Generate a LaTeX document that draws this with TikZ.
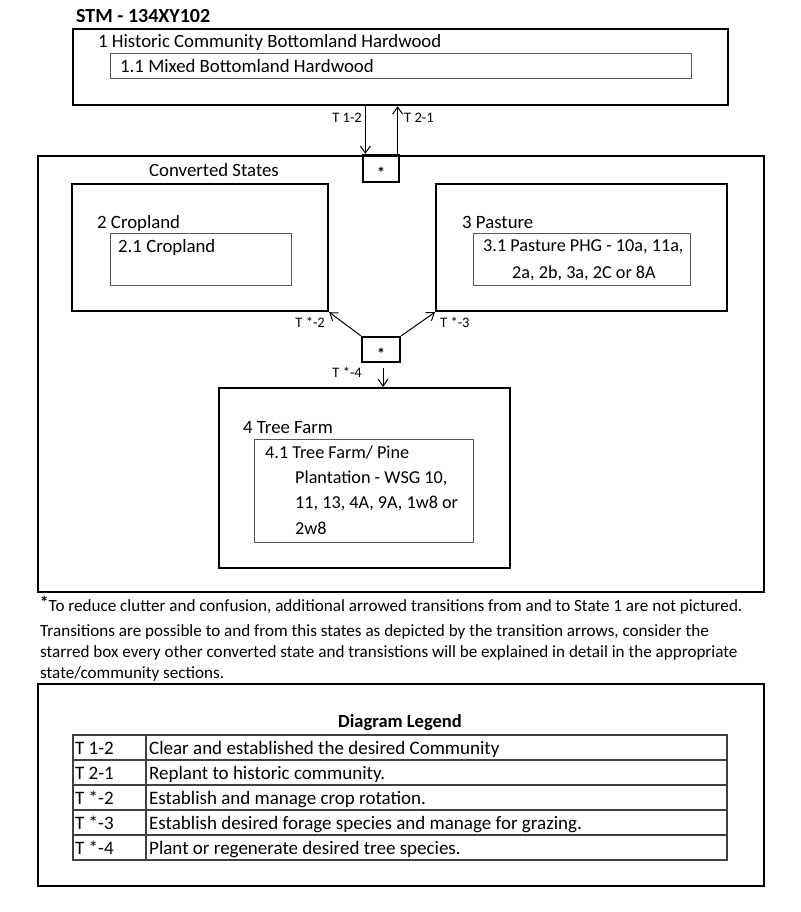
\documentclass[tikz,border=0pt]{standalone}
\usepackage{fontspec}
\setmainfont{Carlito}
\usetikzlibrary{arrows.meta}
\begin{document}
\begin{tikzpicture}[x=1pt,y=-1pt,
  statebox/.style={draw=black, line width=2.2pt, anchor=north west, inner sep=0pt},
  commbox/.style={draw=black!65, line width=1.3pt, anchor=north west, inner sep=0pt},
  starbox/.style={draw=black, line width=2.2pt, inner sep=0pt, font=\fontsize{16}{17}\selectfont\bfseries},
  arr/.style={-{Straight Barb[length=7pt,width=10pt]}, line width=1pt},
  txt/.style={anchor=west, inner sep=0pt, font=\fontsize{18.8}{22}\selectfont},
  txts/.style={anchor=west, inner sep=0pt, font=\fontsize{18.2}{22}\selectfont},
  lab/.style={inner sep=0pt, font=\fontsize{14.5}{16}\selectfont},
  note/.style={anchor=west, inner sep=0pt, font=\fontsize{17.1}{20}\selectfont},
  tabtxt/.style={anchor=base west, inner sep=0pt, font=\fontsize{19}{22}\selectfont},
  tabline/.style={draw=black!75, line width=1.3pt},
]
\useasboundingbox (0,0) rectangle (800,912);
\fill[white] (0,0) rectangle (800,912);

% title
\node[txt, font=\fontsize{20}{24}\selectfont\bfseries] (title) at (76,16) {STM - 134XY102};

% state 1
\node[statebox, minimum width=655pt, minimum height=76pt] (s1) at (72,28) {};
\node[txt] (s1t) at (98,42) {1 Historic Community Bottomland Hardwood};
\node[commbox, minimum width=581pt, minimum height=25pt] (c11) at (110,53) {};
\node[txt] (c11t) at (120,66) {1.1 Mixed Bottomland Hardwood};

% converted states
\node[statebox, minimum width=726pt, minimum height=436pt] (conv) at (37,155) {};
\node[txt] (convt) at (149,170) {Converted States};

% star 1
\node[starbox, minimum width=36pt, minimum height=27pt] (st1) at (381,168.5) {\smash{\raisebox{-10pt}{*}}};
\path ([xshift=3.5pt]st1.north west) coordinate (a12e);
\path ([xshift=-2.5pt]st1.north east) coordinate (a21s);
\draw[arr] (s1.south -| a12e) -- (a12e);
\draw[arr] (a21s) -- (a21s |- s1.south);
\node[lab, anchor=east] (l12) at (362,118) {T 1-2};
\node[lab, anchor=west] (l21) at (404,118) {T 2-1};

% cropland
\node[statebox, minimum width=256pt, minimum height=127pt] (crop) at (71,183) {};
\node[txt] (cropt) at (97,223) {2 Cropland};
\node[commbox, minimum width=181pt, minimum height=52pt] (c21) at (110,233) {};
\node[txt] (c21t) at (118,247) {2.1 Cropland};

% pasture
\node[statebox, minimum width=291pt, minimum height=127pt] (past) at (435,183) {};
\node[txt] (pastt) at (462,222) {3 Pasture};
\node[commbox, minimum width=217pt, minimum height=52pt] (c31) at (473,233) {};
\node[txts] (c31t) at (483,247) {3.1 Pasture PHG - 10a, 11a,};
\node[txts] (c31u) at (512,273) {2a, 2b, 3a, 2C or 8A};

% star 2
\node[starbox, minimum width=38pt, minimum height=25pt] (st2) at (381,349.5) {\smash{\raisebox{-10pt}{*}}};

% tree farm
\node[statebox, minimum width=291pt, minimum height=180pt] (tree) at (218,387) {};
\node[txt] (treet) at (243,428) {4 Tree Farm};
\node[commbox, minimum width=219pt, minimum height=103pt] (c41) at (254,439) {};
\node[txts] (c41a) at (265,453) {4.1 Tree Farm/ Pine};
\node[txts] (c41b) at (295,478) {Plantation - WSG 10,};
\node[txts] (c41c) at (295,503) {11, 13, 4A, 9A, 1w8 or};
\node[txts] (c41d) at (295,528) {2w8};

% transitions from star 2
\draw[arr] (st2.north west) -- (crop.south east);
\draw[arr] (st2.north east) -- (past.south west);
\path ([xshift=2pt,yshift=-5pt]st2.south) coordinate (a4s);
\draw[arr] (a4s) -- (a4s |- tree.north);
\node[lab, anchor=east] (l2) at (325,322) {T *-2};
\node[lab, anchor=west] (l3) at (440,322) {T *-3};
\node[lab, anchor=east] (l4) at (362,372) {T *-4};

% footnote
\node[note] (n1) at (40,605) {\raisebox{3pt}{\bfseries *}To reduce clutter and confusion, additional arrowed transitions from and to State 1 are not pictured.};
\node[note] (n2) at (40,632) {Transitions are possible to and from this states as depicted by the transition arrows, consider the};
\node[note] (n3) at (40,653) {starred box every other converted state and transistions will be explained in detail in the appropriate};
\node[note] (n4) at (40,674) {state/community sections.};

% legend
\node[statebox, minimum width=726pt, minimum height=202pt] (leg) at (37,683) {};
\node[inner sep=0pt, font=\fontsize{18.5}{22}\selectfont\bfseries] (legt) at (400,723) {Diagram Legend};
\draw[tabline] (73,735) rectangle (727,860);
\foreach \yy in {760,785,810,835} \draw[tabline] (73,\yy) -- (727,\yy);
\draw[tabline] (146,735) -- (146,860);
\foreach \k/\a/\b [count=\i from 0] in {
  r1/T 1-2/Clear and established the desired Community,
  r2/T 2-1/Replant to historic community.,
  r3/T *-2/Establish and manage crop rotation.,
  r4/T *-3/Establish desired forage species and manage for grazing.,
  r5/T *-4/Plant or regenerate desired tree species.} {
  \node[tabtxt] (\k a) at (75,754+25*\i) {\a};
  \node[tabtxt] (\k b) at (149,754+25*\i) {\b};
}
\end{tikzpicture}
\end{document}
